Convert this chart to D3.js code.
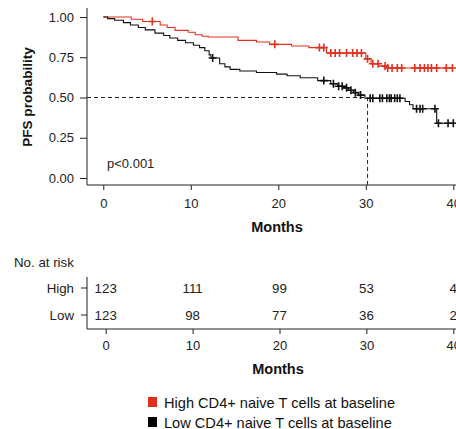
<!DOCTYPE html>
<html><head><meta charset="utf-8">
<script src="https://cdn.jsdelivr.net/npm/d3@7"></script>
<style>
body{margin:0;background:#fff;}
svg{display:block;font-family:"Liberation Sans",Arial,sans-serif;}
</style></head>
<body>
<script>
// ---- data ----
const xTicks = [0, 10, 20, 30, 40];
const yTicks = [0, 0.25, 0.5, 0.75, 1.0];
const groups = ["High", "Low"];
const legendLabels = ["High CD4+ naive T cells at baseline", "Low CD4+ naive T cells at baseline"];

const highTimes = [0, 3.2, 4.5, 6.5, 7.3, 8.2, 9.7, 10.5, 11.3, 12.0, 15.4, 17.5, 19.0, 21.5, 23.5, 25.5, 30.0, 30.6, 31.5, 32.5];
const highSurv  = [1.0, 0.986, 0.972, 0.95, 0.935, 0.917, 0.905, 0.89, 0.88, 0.876, 0.855, 0.845, 0.83, 0.82, 0.81, 0.776, 0.74, 0.71, 0.695, 0.683];
const highCensor = [5.6, 19.6, 24.7, 25.2, 26.0, 26.5, 27.0, 27.8, 28.5, 29.0, 29.5, 30.2, 30.8, 31.4, 32.2, 32.5, 33.0, 33.6, 34.1, 35.6, 36.2, 36.7, 37.1, 37.5, 38.1, 39.2, 39.9];

const lowTimes = [0, 0.5, 1.3, 2.3, 3.1, 4.0, 4.8, 5.9, 6.9, 7.6, 8.5, 9.4, 10.3, 11.0, 11.6, 12.1, 12.3, 13.3, 13.9, 14.5, 15.6, 17.5, 19.8, 21.0, 22.5, 24.5, 26.0, 26.8, 27.5, 28.0, 28.6, 29.2, 29.9, 34.5, 35.0, 35.4, 38.1];
const lowSurv  = [1.0, 0.99, 0.98, 0.965, 0.95, 0.935, 0.92, 0.90, 0.885, 0.87, 0.855, 0.84, 0.825, 0.81, 0.79, 0.765, 0.745, 0.71, 0.69, 0.675, 0.665, 0.655, 0.645, 0.635, 0.623, 0.605, 0.585, 0.57, 0.56, 0.545, 0.53, 0.515, 0.495, 0.475, 0.455, 0.43, 0.34];
const lowCensor = [12.5, 25.2, 26.3, 26.9, 27.3, 27.8, 28.3, 28.8, 29.4, 30.5, 30.8, 31.6, 31.9, 32.4, 32.7, 32.9, 33.3, 33.6, 33.9, 35.8, 36.2, 36.5, 37.9, 38.3, 39.4, 40.0];

const riskHigh = [123, 111, 99, 53, 4];
const riskLow  = [123, 98, 77, 36, 2];
const medianTime = 30.2;
const pText = "p<0.001";

// ---- layout ----
const W = 456, H = 429;
const FONT = "Liberation Sans, Arial, sans-serif";
const colors = {High: "#e2301f", Low: "#111111"};
const svg = d3.select("body").append("svg").attr("width", W).attr("height", H);

const x = d3.scaleLinear().domain([0, 40]).range([103.3, 453.3]);
const y = d3.scaleLinear().domain([0, 1]).range([178, 17]);
const axisY0 = 185, axisX0 = 87;
const axisColor = "#222";

// axis lines
svg.append("line").attr("x1", axisX0).attr("x2", axisX0).attr("y1", 8).attr("y2", axisY0)
  .attr("stroke", axisColor).attr("stroke-width", 1);
svg.append("line").attr("x1", axisX0).attr("x2", W + 10).attr("y1", axisY0).attr("y2", axisY0)
  .attr("stroke", axisColor).attr("stroke-width", 1);

// y axis
const gy = svg.append("g").attr("transform", `translate(${axisX0},0)`)
  .call(d3.axisLeft(y).tickValues(yTicks).tickFormat(d3.format(".2f")).tickSize(7).tickPadding(6));
gy.select(".domain").remove();
gy.selectAll("line").attr("stroke", axisColor);
gy.selectAll("text").attr("font-size", 13).attr("fill", "#222").attr("font-family", FONT);

// x axis
const gx = svg.append("g").attr("transform", `translate(0,${axisY0})`)
  .call(d3.axisBottom(x).tickValues(xTicks).tickSize(5).tickPadding(9));
gx.select(".domain").remove();
gx.selectAll("line").attr("stroke", axisColor);
gx.selectAll("text").attr("font-size", 13).attr("fill", "#222").attr("font-family", FONT);

svg.append("text").attr("x", 277).attr("y", 232).attr("text-anchor", "middle")
  .attr("font-size", 14.5).attr("font-weight", "bold").attr("fill", "#111").text("Months");
svg.append("text").attr("transform", `translate(32,97) rotate(-90)`).attr("text-anchor", "middle")
  .attr("font-size", 13.6).attr("font-weight", "bold").attr("fill", "#111").text("PFS probability");

// median dashed lines
svg.append("path")
  .attr("d", `M${axisX0},${y(0.5)}H${x(medianTime)}V${axisY0}`)
  .attr("fill", "none").attr("stroke", "#222").attr("stroke-width", 1).attr("stroke-dasharray", "4,3");

// curves
function stepFun(times, surv) {
  return t => { let s = surv[0]; for (let i = 0; i < times.length; i++) if (times[i] <= t) s = surv[i]; return s; };
}
const line = d3.line().x(d => x(d[0])).y(d => y(d[1])).curve(d3.curveStepAfter);
function drawGroup(times, surv, cens, color) {
  const end = Math.max(times[times.length - 1], d3.max(cens));
  const pts = times.map((t, i) => [t, surv[i]]);
  pts.push([end, surv[surv.length - 1]]);
  svg.append("path").attr("d", line(pts)).attr("fill", "none").attr("stroke", color).attr("stroke-width", 1.1);
  const f = stepFun(times, surv);
  const g = svg.append("g");
  cens.forEach(c => {
    const cx = x(c), cy = y(f(c));
    g.append("path").attr("d", `M${cx - 4},${cy}H${cx + 4}M${cx},${cy - 4}V${cy + 4}`)
      .attr("stroke", color).attr("stroke-width", 1.6).attr("fill", "none");
  });
}
drawGroup(highTimes, highSurv, highCensor, colors.High);
drawGroup(lowTimes, lowSurv, lowCensor, colors.Low);

svg.append("text").attr("x", 107).attr("y", 168).attr("font-size", 13).attr("fill", "#222").text(pText);

// ---- risk table ----
const xr = d3.scaleLinear().domain([0, 40]).range([105.7, 453.3]);
const tableRows = {High: 288, Low: 315};
const tableBottom = 329;
svg.append("text").attr("x", 14).attr("y", 267).attr("font-size", 13.3).attr("fill", "#222").text("No. at risk");
svg.append("line").attr("x1", axisX0).attr("x2", axisX0).attr("y1", 277).attr("y2", tableBottom).attr("stroke", axisColor);
svg.append("line").attr("x1", axisX0).attr("x2", W + 10).attr("y1", tableBottom).attr("y2", tableBottom).attr("stroke", axisColor);
groups.forEach(gname => {
  const yy = tableRows[gname];
  svg.append("line").attr("x1", axisX0 - 6).attr("x2", axisX0).attr("y1", yy).attr("y2", yy).attr("stroke", axisColor);
  svg.append("text").attr("x", axisX0 - 13).attr("y", yy + 5).attr("text-anchor", "end")
    .attr("font-size", 13.3).attr("fill", "#222").text(gname);
  const vals = gname === "High" ? riskHigh : riskLow;
  vals.forEach((v, i) => {
    svg.append("text").attr("x", xr(xTicks[i])).attr("y", yy + 5).attr("text-anchor", "middle")
      .attr("font-size", 13.3).attr("fill", "#222").text(v);
  });
});
const gx2 = svg.append("g").attr("transform", `translate(0,${tableBottom})`)
  .call(d3.axisBottom(xr).tickValues(xTicks).tickSize(5).tickPadding(7));
gx2.select(".domain").remove();
gx2.selectAll("line").attr("stroke", axisColor);
gx2.selectAll("text").attr("font-size", 13).attr("fill", "#222").attr("font-family", FONT);
svg.append("text").attr("x", 278).attr("y", 374).attr("text-anchor", "middle")
  .attr("font-size", 14.5).attr("font-weight", "bold").attr("fill", "#111").text("Months");

// ---- legend ----
legendLabels.forEach((lab, i) => {
  const ly = 397 + i * 20;
  svg.append("rect").attr("x", 148).attr("y", ly).attr("width", 9).attr("height", 10)
    .attr("fill", i === 0 ? colors.High : "#000");
  svg.append("text").attr("x", 164).attr("y", ly + 10.5).attr("font-size", 14.6).attr("fill", "#111").text(lab);
});
</script>
</body></html>
